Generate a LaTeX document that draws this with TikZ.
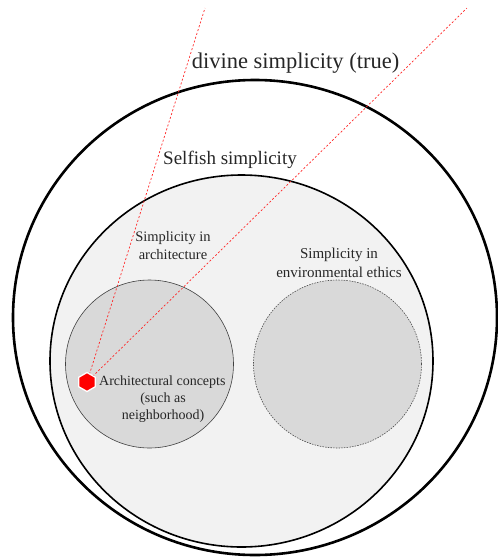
\documentclass[tikz,border=0pt]{standalone}
\usepackage{fontspec}
\setmainfont{Liberation Serif}
\usetikzlibrary{shapes.geometric}
\definecolor{lightfill}{HTML}{F2F2F2}
\definecolor{midfill}{HTML}{D9D9D9}
\definecolor{txt}{HTML}{262626}
\begin{document}
\begin{tikzpicture}[x=1pt,y=-1pt,
  lbl/.style={text=txt,inner sep=0pt,align=center},
  ray/.style={red!85!white,line width=0.7pt,dash pattern=on 2pt off 2pt}]
\useasboundingbox (0,0) rectangle (498,558);
% outer divine circle
\draw[line width=2.6pt,fill=white] (255,317.5) ellipse [x radius=242, y radius=237.5];
% selfish circle
\draw[line width=1.6pt,fill=lightfill] (241.5,361) ellipse [x radius=191.5, y radius=186];
% architecture
\node[circle,draw=black!75,line width=0.6pt,fill=midfill,minimum size=168pt,inner sep=0pt] (arch) at (149.5,364) {};
% environmental ethics
\node[circle,draw=black!70,line width=0.6pt,dash pattern=on 1.5pt off 1.2pt,fill=midfill,minimum size=168pt,inner sep=0pt] (env) at (337.5,364) {};
% rays
\coordinate (r1) at (205,8);
\coordinate (r2) at (467,8);
\coordinate (hc) at (87,382);
\draw[ray] (hc) -- (r1);
\draw[ray] (hc) -- (r2);
% hexagon
\node[regular polygon,regular polygon sides=6,shape border rotate=90,fill=red,draw=white,line width=1.3pt,minimum size=19pt,inner sep=0pt] (hex) at (hc) {};
% labels
\node[lbl,font=\fontsize{22.5}{25}\selectfont] (divine) at (295.5,63) {divine simplicity (true)};
\node[lbl,font=\fontsize{19}{22}\selectfont] (selfish) at (230,160) {Selfish simplicity};
\node[lbl,font=\fontsize{14.5}{18}\selectfont] (archlbl) at (173,246) {Simplicity in\\architecture};
\node[lbl,font=\fontsize{15}{19}\selectfont] (envlbl) at (339,262.5) {Simplicity in\\environmental ethics};
\node[lbl,font=\fontsize{14}{17}\selectfont,anchor=west] (concepts) at (99,382) {Architectural concepts};
\node[lbl,font=\fontsize{14}{17}\selectfont] (such) at (163,408) {(such as\\neighborhood)};
\end{tikzpicture}
\end{document}
